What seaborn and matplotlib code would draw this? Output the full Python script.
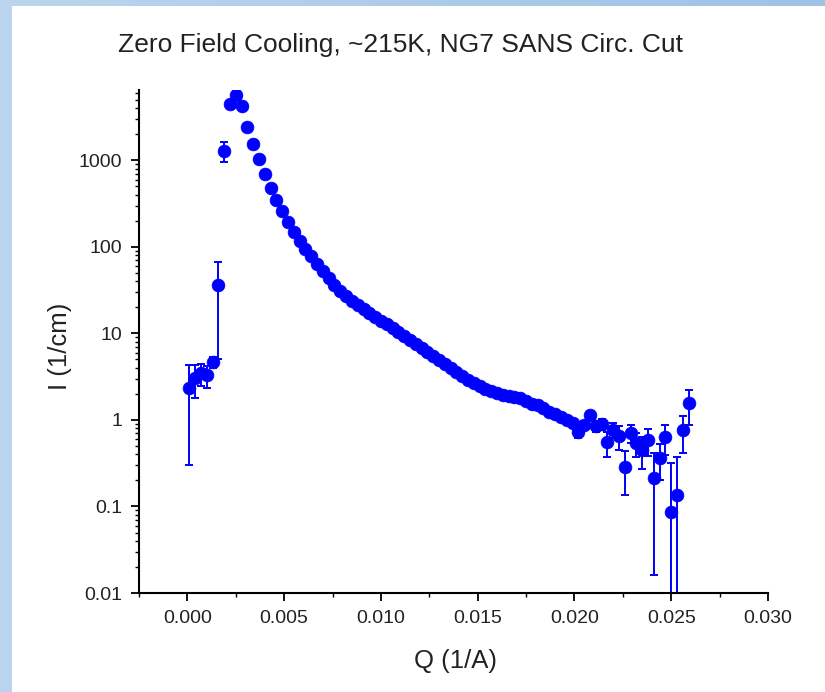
import numpy as np
import pandas as pd
import matplotlib
matplotlib.use("Agg")
import matplotlib.pyplot as plt
from matplotlib.patches import Rectangle
from matplotlib.ticker import MultipleLocator, FixedLocator, FixedFormatter, LogLocator, NullFormatter
import seaborn as sns

# ---------------- data ----------------
q_values = [0.0001, 0.0004, 0.0007, 0.0010, 0.0013, 0.0016, 0.0019, 0.0022, 0.0025, 0.0028,
            0.0031, 0.0034, 0.0037, 0.0040, 0.0043, 0.0046, 0.0049, 0.0052, 0.0055, 0.0058,
            0.0061, 0.0064, 0.0067, 0.0070, 0.0073, 0.0076, 0.0079, 0.0082, 0.0085, 0.0088,
            0.0091, 0.0094, 0.0097, 0.0100, 0.0103, 0.0106, 0.0109, 0.0112, 0.0115, 0.0118,
            0.0121, 0.0124, 0.0127, 0.0130, 0.0133, 0.0136, 0.0139, 0.0142, 0.0145, 0.0148,
            0.0151, 0.0154, 0.0157, 0.0160, 0.0163, 0.0166, 0.0169, 0.0172, 0.0175, 0.0178,
            0.0181, 0.0184, 0.0187, 0.0190, 0.0193, 0.0196, 0.0199, 0.0202, 0.0205, 0.0208,
            0.0211, 0.0214, 0.0217, 0.0220, 0.0223, 0.0226, 0.0229, 0.0232, 0.0235, 0.0238,
            0.0241, 0.0244, 0.0247, 0.0250, 0.0253, 0.0256, 0.0259]
intensity = [2.33, 3.04, 3.47, 3.29, 4.65, 36.0, 1280, 4430, 5630, 4200,
             2400, 1530, 1030, 689, 475, 345, 258, 192, 147, 116,
             93.8, 77.9, 63.0, 52.3, 43.4, 36.0, 30.7, 26.9, 23.5, 21.2,
             19.0, 17.1, 15.4, 13.8, 12.8, 11.5, 10.3, 9.29, 8.34, 7.50,
             6.75, 6.07, 5.45, 4.91, 4.41, 3.96, 3.56, 3.20, 2.88, 2.66,
             2.46, 2.27, 2.15, 2.04, 1.93, 1.88, 1.83, 1.79, 1.65, 1.52,
             1.48, 1.37, 1.23, 1.17, 1.08, 0.995, 0.918, 0.723, 0.871, 1.14,
             0.847, 0.893, 0.555, 0.762, 0.650, 0.285, 0.705, 0.540, 0.448, 0.585,
             0.213, 0.362, 0.632, 0.086, 0.136, 0.762, 1.56]
intensity_err = [2.03, 1.25, 1.0, 0.93, 0.65, 31.0, 330, 300, 350, 260,
                 140, 80, 50, 30, 20, 13, 9.0, 6.5, 5.0, 3.8,
                 3.0, 2.4, 1.9, 1.6, 1.3, 1.1, 0.9, 0.8, 0.7, 0.65,
                 0.6, 0.55, 0.5, 0.45, 0.42, 0.4, 0.37, 0.34, 0.31, 0.29,
                 0.27, 0.25, 0.23, 0.21, 0.2, 0.19, 0.17, 0.16, 0.15, 0.14,
                 0.13, 0.12, 0.12, 0.11, 0.11, 0.11, 0.1, 0.1, 0.1, 0.09,
                 0.09, 0.09, 0.09, 0.08, 0.08, 0.08, 0.08, 0.1, 0.1, 0.12,
                 0.12, 0.13, 0.18, 0.15, 0.2, 0.15, 0.16, 0.17, 0.18, 0.2,
                 0.197, 0.16, 0.24, 0.234, 0.234, 0.35, 0.68]

x_ticks = [0.000, 0.005, 0.010, 0.015, 0.020, 0.025, 0.030]
x_tick_labels = ["0.000", "0.005", "0.010", "0.015", "0.020", "0.025", "0.030"]
y_ticks = [0.01, 0.1, 1, 10, 100, 1000]
y_tick_labels = ["0.01", "0.1", "1", "10", "100", "1000"]

title_text = "Zero Field Cooling, ~215K, NG7 SANS Circ. Cut"
x_label = "Q (1/A)"
y_label = "I (1/cm)"

df = pd.DataFrame({"Q": q_values, "I": intensity, "err": intensity_err})

# ---------------- style ----------------
sns.set_style("white")
plt.rcParams["font.family"] = ["Liberation Sans", "DejaVu Sans"]

W, H = 825, 692
fig = plt.figure(figsize=(W / 100, H / 100), dpi=100)

# light-blue frame in the background
bg = fig.add_axes([0, 0, 1, 1], zorder=-10)
grad = np.linspace(0, 1, 256).reshape(1, -1)
bg.imshow(np.vstack([grad, grad]), extent=[0, 1, 0, 1], aspect="auto",
          cmap=matplotlib.colors.LinearSegmentedColormap.from_list("bl", ["#bcd5ee", "#9fc2e5"]))
bg.add_patch(Rectangle((12 / W, 0), 1, 1 - 6 / H, facecolor="white", edgecolor="none"))
bg.set_xlim(0, 1)
bg.set_ylim(0, 1)
bg.axis("off")

left, right, top, bottom = 139, 768, 90, 593
ax = fig.add_axes([left / W, 1 - bottom / H, (right - left) / W, (bottom - top) / H])
ax.set_facecolor("none")

ax.errorbar(df["Q"], df["I"], yerr=df["err"], fmt="none", ecolor="#0000ff",
            elinewidth=1.4, capsize=3, capthick=1.4, zorder=2)
sns.scatterplot(data=df, x="Q", y="I", ax=ax, color="#0000ff", edgecolor="#0000ff",
                s=85, linewidth=0.5, zorder=3, legend=False)

ax.set_yscale("log")
ax.set_xlim(-0.0025, 0.030)
ax.set_ylim(0.01, 6500)

ax.xaxis.set_major_locator(FixedLocator(x_ticks))
ax.xaxis.set_major_formatter(FixedFormatter(x_tick_labels))
ax.xaxis.set_minor_locator(MultipleLocator(0.0025))
ax.yaxis.set_major_locator(FixedLocator(y_ticks))
ax.yaxis.set_major_formatter(FixedFormatter(y_tick_labels))
ax.yaxis.set_minor_locator(LogLocator(base=10, subs=np.arange(2, 10)))
ax.yaxis.set_minor_formatter(NullFormatter())

for s in ["top", "right"]:
    ax.spines[s].set_visible(False)
for s in ["left", "bottom"]:
    ax.spines[s].set_color("black")
    ax.spines[s].set_linewidth(1.5)

ax.tick_params(which="major", direction="out", length=6, width=1.3, colors="black",
               labelsize=14, pad=6, left=True, bottom=True)
ax.tick_params(which="minor", direction="out", length=3, width=1.0, colors="black",
               left=True, bottom=True)
for lab in ax.get_xticklabels() + ax.get_yticklabels():
    lab.set_color("#222222")

ax.set_xlabel("")
ax.set_ylabel("")
fig.text(455 / W, 1 - 661 / H, x_label, ha="center", va="center", fontsize=18.5, color="#222222")
fig.text(60 / W, 1 - 346 / H, y_label, ha="center", va="center", rotation=90, fontsize=18.5,
         color="#222222")
fig.text(401 / W, 1 - 45 / H, title_text, ha="center", va="center", fontsize=19, color="#222222")

fig.savefig("out.png", dpi=100)
